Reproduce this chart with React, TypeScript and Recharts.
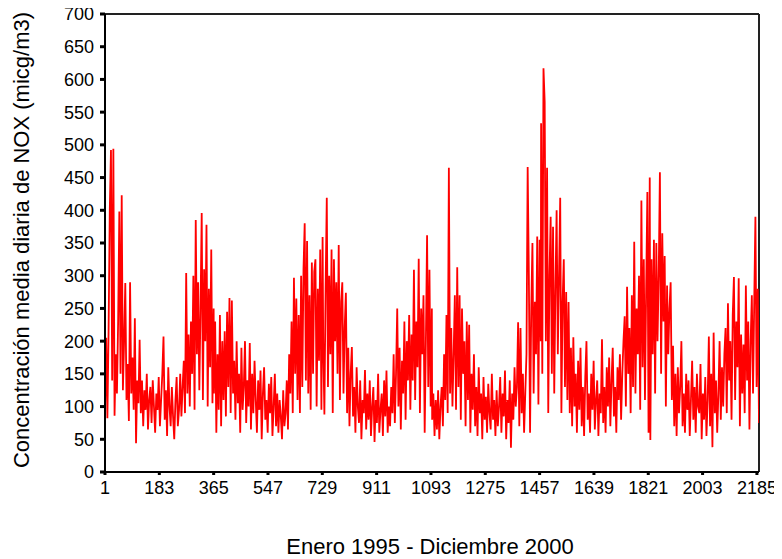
import React from "react";
import { LineChart, Line, XAxis, YAxis, ReferenceLine, Label } from "recharts";

const yearStarts = [1, 366, 732, 1097, 1462, 1828];
const stepDays = 4;

const nox1995 = [95, 205, 82, 215, 400, 492, 140, 494, 86, 180, 120, 230, 398, 150, 423, 125, 200, 289, 110, 165, 78, 290, 120, 175, 95, 235, 44, 140, 105, 202, 90, 140, 70, 125, 95, 150, 65, 110, 130, 75, 140, 100, 60, 120, 95, 145, 70, 110, 150, 207, 80, 125, 55, 160, 100, 70, 130, 85, 50, 110, 145, 70, 95, 150, 85, 130, 170, 90, 304, 120, 210, 100, 230, 150, 300, 95, 385, 180, 290, 125, 250, 396, 110, 310, 200, 378, 100, 280, 160, 340, 105, 250];
const nox1996 = [120, 230, 60, 180, 95, 240, 70, 200, 110, 215, 85, 245, 130, 266, 90, 262, 120, 170, 80, 200, 105, 150, 60, 190, 95, 130, 200, 75, 140, 100, 197, 65, 150, 90, 170, 110, 60, 140, 95, 155, 50, 120, 160, 80, 110, 60, 135, 90, 145, 55, 100, 150, 70, 120, 60, 110, 85, 50, 125, 70, 90, 140, 65, 180, 120, 230, 90, 297, 150, 265, 110, 240, 90, 300, 130, 310, 380, 140, 353, 120, 270, 95, 320, 150, 306, 325, 100, 280, 170, 340, 95, 359];
const nox1997 = [200, 88, 280, 419, 130, 300, 180, 340, 90, 325, 200, 290, 150, 347, 110, 260, 290, 120, 220, 274, 90, 190, 70, 150, 191, 85, 130, 60, 160, 100, 75, 140, 50, 110, 90, 156, 65, 120, 80, 140, 55, 100, 130, 46, 110, 75, 150, 60, 95, 120, 55, 140, 85, 155, 60, 100, 70, 130, 90, 180, 75, 150, 250, 100, 190, 65, 170, 120, 230, 80, 200, 140, 240, 95, 210, 140, 309, 110, 230, 160, 326, 90, 250, 180, 270, 60, 200, 362, 130, 309, 100, 250];
const nox1998 = [80, 120, 55, 110, 65, 125, 50, 100, 130, 70, 180, 110, 240, 90, 465, 120, 220, 100, 180, 270, 95, 313, 130, 270, 80, 250, 150, 200, 70, 230, 110, 225, 60, 150, 95, 180, 70, 130, 55, 160, 90, 120, 50, 145, 80, 115, 60, 135, 90, 65, 150, 80, 110, 55, 125, 70, 100, 145, 60, 120, 85, 155, 50, 110, 75, 140, 37, 120, 80, 160, 100, 130, 229, 70, 220, 90, 150, 60, 120, 180, 466, 300, 60, 250, 350, 120, 260, 180, 360, 103, 355, 200];
const nox1999 = [533, 150, 617, 566, 200, 465, 90, 300, 390, 150, 375, 120, 280, 400, 180, 300, 419, 90, 260, 325, 130, 275, 110, 260, 90, 190, 70, 206, 100, 150, 60, 170, 95, 190, 70, 130, 55, 145, 200, 80, 120, 60, 150, 95, 170, 65, 110, 140, 55, 120, 90, 203, 75, 130, 60, 160, 100, 175, 70, 140, 190, 85, 130, 60, 160, 110, 180, 80, 150, 200, 238, 100, 283, 150, 220, 90, 270, 130, 352, 120, 250, 180, 300, 95, 415, 160, 325, 110, 280, 428, 60, 450];
const nox2000 = [49, 325, 180, 355, 120, 350, 200, 300, 458, 150, 365, 230, 330, 100, 285, 180, 250, 290, 110, 193, 70, 150, 55, 160, 90, 130, 200, 70, 120, 60, 150, 95, 140, 55, 110, 170, 80, 130, 60, 150, 100, 90, 165, 50, 120, 80, 145, 55, 110, 207, 70, 150, 38, 213, 90, 140, 60, 120, 200, 80, 160, 100, 180, 220, 90, 258, 140, 200, 80, 240, 298, 110, 230, 160, 296, 70, 210, 120, 195, 90, 285, 140, 230, 65, 200, 270, 120, 260, 390, 130, 280, 75];

const yearSeries = [nox1995, nox1996, nox1997, nox1998, nox1999, nox2000];

const xTicks = [1, 183, 365, 547, 729, 911, 1093, 1275, 1457, 1639, 1821, 2003, 2185];
const yTicks = [0, 50, 100, 150, 200, 250, 300, 350, 400, 450, 500, 550, 600, 650, 700];

const xTitle = "Enero 1995 - Diciembre 2000";
const yTitle = "Concentración media diaria de NOX (micg/m3)";

const data = yearSeries.flatMap((vals, y) =>
  vals.map((v, i) => ({ day: yearStarts[y] + i * stepDays, nox: v }))
);

const FONT = "'Liberation Sans', Arial, Helvetica, sans-serif";

export default function App() {
  return (
    <div style={{ width: 774, height: 559, marginTop: -8, fontFamily: FONT }}>
      <LineChart
        width={774}
        height={559}
        data={data}
        margin={{ top: 14, right: 23, bottom: 57, left: 0 }}
      >
        <XAxis
          dataKey="day"
          type="number"
          domain={[1, 2192]}
          ticks={xTicks}
          interval={0}
          allowDataOverflow
          height={30}
          axisLine={{ stroke: "#000", strokeWidth: 2 }}
          tickLine={{ stroke: "#000", strokeWidth: 3 }}
          tickSize={3}
          tickMargin={6}
          tick={{ fill: "#000", fontSize: 18, fontFamily: FONT }}
        >
          <Label
            content={() => (
              <text
                x={422}
                y={546}
                textAnchor="middle"
                dominantBaseline="central"
                fill="#000"
                fontSize={22}
                fontFamily={FONT}
              >
                {xTitle}
              </text>
            )}
          />
        </XAxis>
        <YAxis
          type="number"
          domain={[0, 700]}
          ticks={yTicks}
          interval={0}
          width={97}
          axisLine={{ stroke: "#000", strokeWidth: 2 }}
          tickLine={{ stroke: "#000", strokeWidth: 3 }}
          tickSize={5}
          tickMargin={6}
          tick={{ fill: "#000", fontSize: 18, fontFamily: FONT }}
        >
          <Label
            content={() => (
              <text
                x={13}
                y={240}
                transform="rotate(-90 13 240)"
                textAnchor="middle"
                dominantBaseline="central"
                fill="#000"
                fontSize={22}
                fontFamily={FONT}
              >
                {yTitle}
              </text>
            )}
          />
        </YAxis>
        <ReferenceLine y={700} stroke="#222" strokeWidth={2} ifOverflow="extendDomain" />
        <ReferenceLine x={2192} stroke="#222" strokeWidth={2} ifOverflow="extendDomain" />
        <Line
          type="linear"
          dataKey="nox"
          stroke="#ff0000"
          strokeWidth={1.8}
          dot={false}
          activeDot={false}
          isAnimationActive={false}
        />
      </LineChart>
    </div>
  );
}
